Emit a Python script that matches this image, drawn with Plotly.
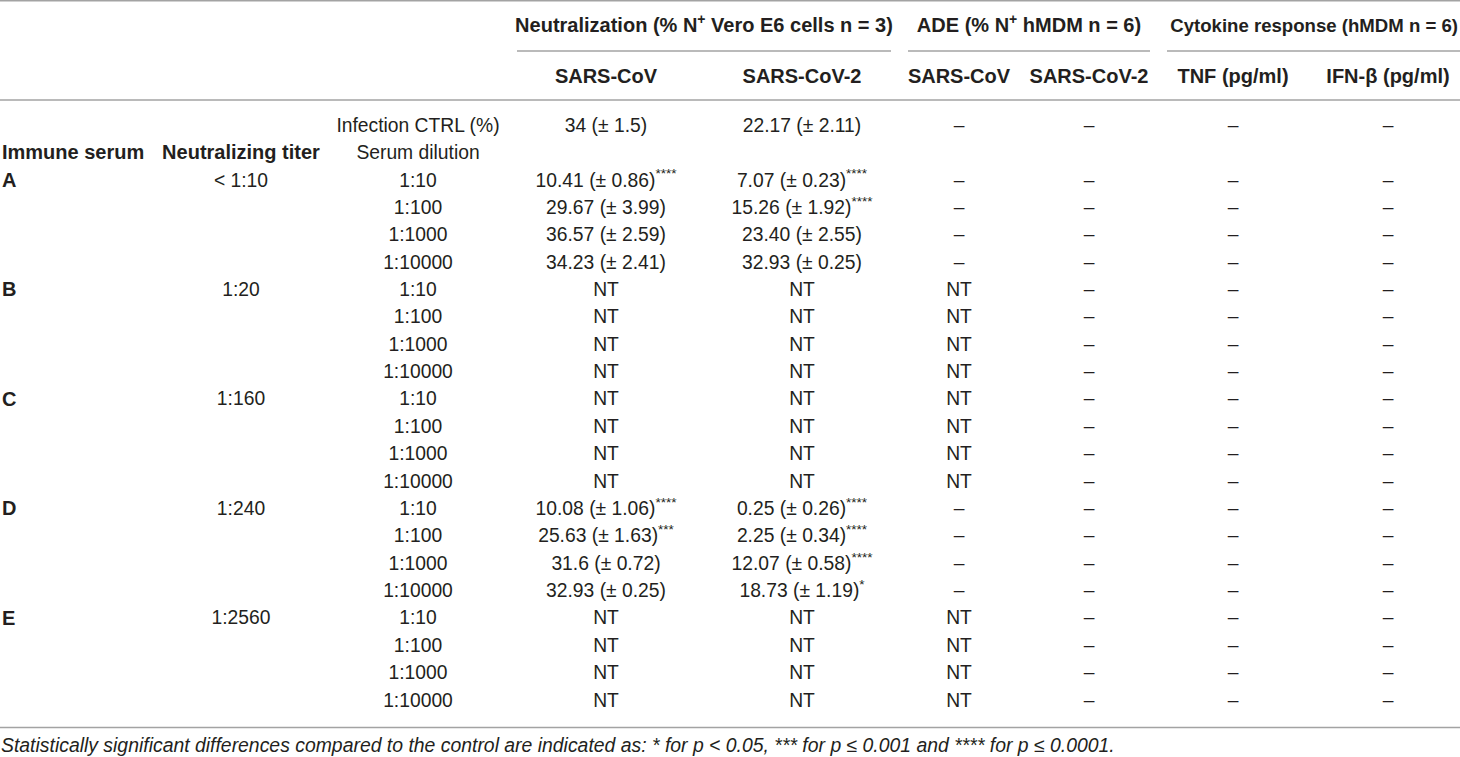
import plotly.graph_objects as go

# ---------------- data ----------------
sera = ["A", "B", "C", "D", "E"]
titers = ["< 1:10", "1:20", "1:160", "1:240", "1:2560"]
dilutions = ["1:10", "1:100", "1:1000", "1:10000"]

ctrl_cov_mean, ctrl_cov_sd = "34", "1.5"
ctrl_cov2_mean, ctrl_cov2_sd = "22.17", "2.11"

# Neutralization SARS-CoV (mean, sd, significance); sera not listed = NT
neut_cov_mean = {"A": ["10.41", "29.67", "36.57", "34.23"], "D": ["10.08", "25.63", "31.6", "32.93"]}
neut_cov_sd = {"A": ["0.86", "3.99", "2.59", "2.41"], "D": ["1.06", "1.63", "0.72", "0.25"]}
neut_cov_sig = {"A": ["****", "", "", ""], "D": ["****", "***", "", ""]}

# Neutralization SARS-CoV-2
neut_cov2_mean = {"A": ["7.07", "15.26", "23.40", "32.93"], "D": ["0.25", "2.25", "12.07", "18.73"]}
neut_cov2_sd = {"A": ["0.23", "1.92", "2.55", "0.25"], "D": ["0.26", "0.34", "0.58", "1.19"]}
neut_cov2_sig = {"A": ["****", "****", "", ""], "D": ["****", "****", "****", "*"]}

# ADE SARS-CoV: sera not tested
ade_cov_nt = ["B", "C", "E"]

header_groups = ["Neutralization (% N<sup>+</sup> Vero E6 cells n = 3)",
                 "ADE (% N<sup>+</sup> hMDM n = 6)",
                 "Cytokine response (hMDM n = 6)"]
sub_headers = ["SARS-CoV", "SARS-CoV-2", "SARS-CoV", "SARS-CoV-2", "TNF (pg/ml)", "IFN-β (pg/ml)"]
left_headers = ["Immune serum", "Neutralizing titer"]
ctrl_label = "Infection CTRL (%)"
dil_label = "Serum dilution"
footnote = ("Statistically significant differences compared to the control are indicated as: "
            "* for p < 0.05, *** for p ≤ 0.001 and **** for p ≤ 0.0001.")

# ---------------- layout constants ----------------
W, H = 1460, 757
FONT = "Liberation Sans, Arial, Helvetica, sans-serif"
TXT = "#231f20"
LINE = "#a3a3a3"
FS = 19.3
FSB = 20

x_serum = 2
x_titer = 241
x_dil = 418
x_vals = [606, 802, 959, 1089, 1233, 1388]
group_spans = [(517, 891), (908, 1150), (1167, 1460)]

y_group = 27
y_underline = 51
y_sub = 77.5
y_hline = 100
row_h = 27.37
y_first = 181.7           # first data row
y_ctrl = y_first - 2 * row_h
y_dil = y_first - row_h
y_bottom = 727.5
y_foot = 747


def fmt(m, s, sig):
    t = f"{m} (± {s})"
    if sig:
        t += f"<sup>{sig}</sup>"
    return t


fig = go.Figure()


def add_text(xs, ys, texts, pos="middle center", bold=False, size=None, italic=False):
    if size is None:
        size = FSB if bold else FS
    fig.add_trace(go.Scatter(
        x=xs, y=ys, text=texts, mode="text", textposition=pos,
        textfont=dict(family=FONT, size=size, color=TXT,
                      weight="bold" if bold else "normal",
                      style="italic" if italic else "normal"),
        hoverinfo="skip", showlegend=False, cliponaxis=False))


# group headers
gx = [(a + b) / 2 for a, b in group_spans]
add_text(gx[:2], [y_group] * 2, header_groups[:2], bold=True)
add_text([W - 2], [y_group], [header_groups[2]], pos="middle left", bold=True, size=18.6)
add_text(x_vals, [y_sub] * 6, sub_headers, bold=True)

# control row
add_text([x_dil], [y_ctrl], [ctrl_label])
add_text(x_vals, [y_ctrl] * 6,
         [fmt(ctrl_cov_mean, ctrl_cov_sd, ""), fmt(ctrl_cov2_mean, ctrl_cov2_sd, ""), "–", "–", "–", "–"])

# column headers of left block
add_text([x_serum], [y_dil], [left_headers[0]], pos="middle right", bold=True)
add_text([x_titer], [y_dil], [left_headers[1]], bold=True)
add_text([x_dil], [y_dil], [dil_label])

# body
sx, sy, st = [], [], []
tx, ty, tt = [], [], []
dx, dy, dt = [], [], []
cols = [[] for _ in x_vals]
for i, s in enumerate(sera):
    y0 = y_first + i * 4 * row_h
    sx.append(x_serum); sy.append(y0); st.append(s)
    tx.append(x_titer); ty.append(y0); tt.append(titers[i])
    for j, d in enumerate(dilutions):
        y = y0 + j * row_h
        dx.append(x_dil); dy.append(y); dt.append(d)
        if s in neut_cov_mean:
            c1 = fmt(neut_cov_mean[s][j], neut_cov_sd[s][j], neut_cov_sig[s][j])
            c2 = fmt(neut_cov2_mean[s][j], neut_cov2_sd[s][j], neut_cov2_sig[s][j])
        else:
            c1 = c2 = "NT"
        c3 = "NT" if s in ade_cov_nt else "–"
        row = [c1, c2, c3, "–", "–", "–"]
        for k, c in enumerate(row):
            cols[k].append((y, c))

add_text(sx, sy, st, pos="middle right", bold=True)
add_text(tx, ty, tt)
add_text(dx, dy, dt)
for k, xv in enumerate(x_vals):
    add_text([xv] * len(cols[k]), [c[0] for c in cols[k]], [c[1] for c in cols[k]])

# footnote
add_text([1], [y_foot], [footnote], pos="middle right", italic=True, size=19.4)

# rules
shapes = []
for yv in (0.8, y_hline, y_bottom):
    shapes.append(dict(type="line", x0=0, x1=W, y0=yv, y1=yv, line=dict(color=LINE, width=1.5)))
for a, b in group_spans:
    shapes.append(dict(type="line", x0=a, x1=b, y0=y_underline, y1=y_underline,
                       line=dict(color=LINE, width=1.5)))

fig.update_layout(
    width=W, height=H, autosize=False,
    margin=dict(l=0, r=0, t=0, b=0),
    paper_bgcolor="white", plot_bgcolor="white",
    xaxis=dict(range=[0, W], visible=False, fixedrange=True),
    yaxis=dict(range=[H, 0], visible=False, fixedrange=True),
    shapes=shapes,
)

fig.write_html("out.html", config={"displayModeBar": False},
               post_script="document.body.style.margin='0';document.body.style.overflow='hidden';")
